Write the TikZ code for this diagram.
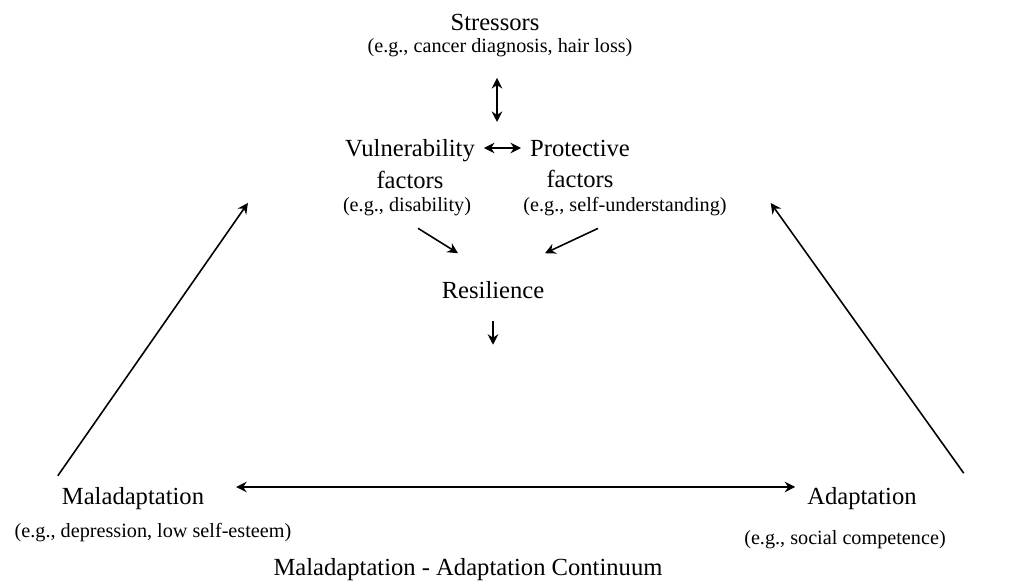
\documentclass[tikz,border=0pt]{standalone}
\usepackage{fontspec}
\setmainfont{Liberation Serif}
\usetikzlibrary{arrows.meta}

\begin{document}
\begin{tikzpicture}[
    label/.style={font=\fontsize{14}{18}\selectfont, align=center, inner sep=1pt},
    example/.style={font=\fontsize{11.5}{14}\selectfont, inner sep=1pt},
    arr/.style={-{Stealth[length=6pt,width=6pt,inset=2pt]}, line width=0.9pt},
    dbl/.style={{Stealth[length=6pt,width=6pt,inset=2pt]}-{Stealth[length=6pt,width=6pt,inset=2pt]}, line width=0.9pt}
]

    % 0. Moldura fixa (proporcoes da figura original)
    \useasboundingbox (0,0) rectangle (20.48,11.7);

    % 1. Estressores no topo
    \node[label]   (str)    at (9.90,11.26) {Stressors};
    \node[example] (strsub) at (10.00,10.74) {(e.g., cancer diagnosis, hair loss)};

    % 2. Fatores de vulnerabilidade e de protecao
    \node[label]   (vul)    at (8.20,8.42)  {Vulnerability\\factors};
    \node[example] (vulsub) at (8.14,7.56)  {(e.g., disability)};
    \node[label]   (pro)    at (11.60,8.42) {Protective\\factors};
    \node[example] (prosub) at (12.50,7.56) {(e.g., self-understanding)};

    % 3. Resiliencia no centro
    \node[label]   (res)    at (9.86,5.90)  {Resilience};

    % 4. Extremos do continuo
    \node[label]   (mal)    at (2.66,1.72)  {Maladaptation};
    \node[example] (malsub) at (3.06,1.04)  {(e.g., depression, low self-esteem)};
    \node[label]   (ada)    at (17.24,1.72) {Adaptation};
    \node[example] (adasub) at (16.90,0.90) {(e.g., social competence)};
    \node[label]   (cont)   at (9.36,0.30)  {Maladaptation - Adaptation Continuum};

    % pontas livres das setas curtas
    \coordinate (stop)  at (9.94,10.14);
    \coordinate (pair)  at (9.94,9.26);
    \coordinate (rout)  at ([yshift=-0.88cm]res.south);

    % 5. Setas
    \draw[dbl] (stop) -- (pair);
    \draw[dbl, shorten <=0.14cm, shorten >=0.14cm] ([yshift=0.32cm]vul.east) -- ([yshift=0.32cm]pro.west);
    \draw[arr] ([shift={(0.22,-0.2)}]vulsub.south) -- ([shift={(-0.7,0.52)}]res.north);
    \draw[arr] ([shift={(-0.54,-0.2)}]prosub.south) -- ([shift={(1.04,0.52)}]res.north);
    \draw[arr] ([yshift=-0.4cm]res.south) -- (rout);
    \draw[dbl, shorten <=0.6cm, shorten >=0.2cm] ([yshift=0.24cm]mal.east) -- ([yshift=0.24cm]ada.west);
    \draw[arr] ([shift={(-0.04,0.2)}]mal.north west) -- ([shift={(-1.86,0.08)}]vulsub.west);
    \draw[arr] ([shift={(0.9,0.25)}]ada.north east) -- ([shift={(0.84,0.08)}]prosub.east);

\end{tikzpicture}
\end{document}
